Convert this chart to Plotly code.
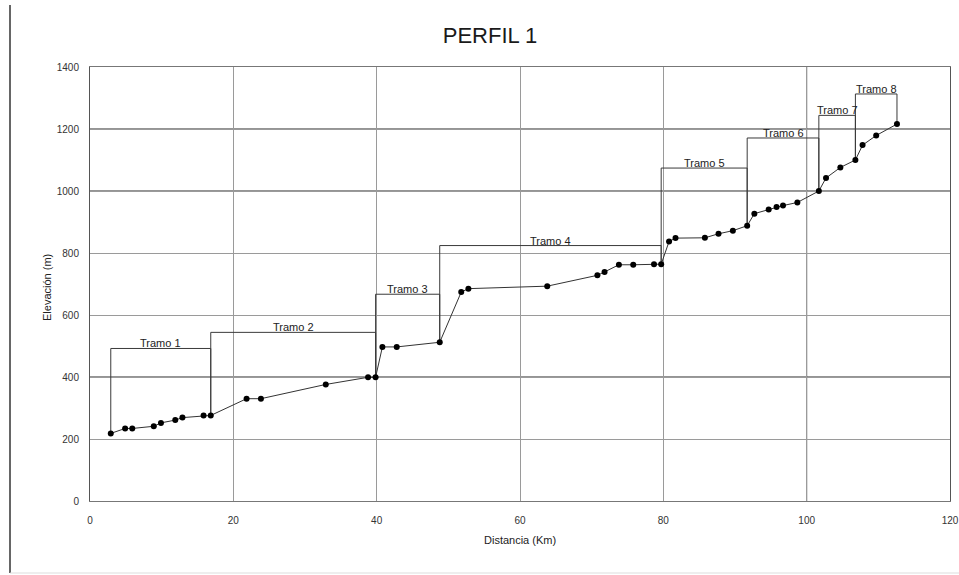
import plotly.graph_objects as go

# ---- data ----
dist = [2.9, 4.9, 5.9, 8.9, 9.9, 11.9, 12.9, 15.85, 16.85, 21.85, 23.85, 32.9,
        38.8, 39.85, 40.8, 42.8, 48.8, 51.8, 52.8, 63.8, 70.8, 71.8, 73.8, 75.8,
        78.7, 79.7, 80.8, 81.7, 85.8, 87.7, 89.7, 91.7, 92.7, 94.7, 95.8, 96.7,
        98.7, 101.7, 102.7, 104.7, 106.8, 107.8, 109.7, 112.6]
elev = [218, 234, 234, 241, 252, 261, 269, 276, 276, 330, 330, 376,
        399, 399, 497, 497, 512, 674, 685, 693, 728, 739, 762, 762,
        764, 764, 837, 848, 849, 862, 872, 888, 927, 940, 948, 953,
        963, 1000, 1042, 1076, 1100, 1148, 1179, 1216]

tramo_names = ["Tramo 1", "Tramo 2", "Tramo 3", "Tramo 4",
               "Tramo 5", "Tramo 6", "Tramo 7", "Tramo 8"]
tramo_start = [2.9, 16.85, 39.85, 48.8, 79.7, 91.7, 101.7, 106.8]
tramo_end = [16.85, 39.85, 48.8, 79.7, 91.7, 101.7, 106.8, 112.6]
tramo_top = [492, 544, 667, 824, 1074, 1171, 1244, 1313]

x_ticks = [0, 20, 40, 60, 80, 100, 120]
y_ticks = [0, 200, 400, 600, 800, 1000, 1200, 1400]
dark_grid_x = [100]
dark_grid_y = [400, 1000, 1200]

elev_at = dict(zip(dist, elev))

# bracket polylines
bx, by = [], []
for s, e, t in zip(tramo_start, tramo_end, tramo_top):
    bx += [s, s, e, e, None]
    by += [elev_at[s], t, t, elev_at[e], None]

FONT = "Liberation Sans, Arial, sans-serif"

fig = go.Figure()
fig.add_trace(go.Scatter(x=bx, y=by, mode="lines",
                         line=dict(color="#3a3a3a", width=1),
                         hoverinfo="skip", showlegend=False))
fig.add_trace(go.Scatter(x=dist, y=elev, mode="lines+markers",
                         line=dict(color="#333333", width=1),
                         marker=dict(color="black", size=6),
                         showlegend=False))

annotations = []
for name, s, e, t in zip(tramo_names, tramo_start, tramo_end, tramo_top):
    annotations.append(dict(x=(s + e) / 2, y=t, xref="x", yref="y",
                            text=name, showarrow=False, yanchor="bottom",
                            yshift=-3, font=dict(family=FONT, size=11, color="#222")))

# axis titles placed as annotations (pixel positions converted to paper)
PL, PR, PT, PB = 90, 950, 67, 501
W, H = 959, 575
pw, ph = PR - PL, PB - PT
def px(xp): return (xp - PL) / pw
def py(yp): return (PB - yp) / ph

annotations.append(dict(x=px(520), y=py(548), xref="paper", yref="paper",
                        text="Distancia (Km)", showarrow=False,
                        font=dict(family=FONT, size=11, color="#222")))
annotations.append(dict(x=px(39), y=py(288), xref="paper", yref="paper",
                        text="Elevación (m)", showarrow=False, textangle=-90,
                        font=dict(family=FONT, size=11, color="#222")))

shapes = []
for gx in dark_grid_x:
    shapes.append(dict(type="line", xref="x", yref="paper", x0=gx, x1=gx, y0=0, y1=1,
                       line=dict(color="#2a2a2a", width=1), layer="below"))
for gy in dark_grid_y:
    shapes.append(dict(type="line", xref="paper", yref="y", x0=0, x1=1, y0=gy, y1=gy,
                       line=dict(color="#2a2a2a", width=1), layer="below"))
# page frame lines
shapes.append(dict(type="line", xref="paper", yref="paper", x0=px(10), x1=px(10),
                   y0=py(573), y1=py(5), line=dict(color="#333", width=1.5)))
shapes.append(dict(type="line", xref="paper", yref="paper", x0=px(10), x1=px(959),
                   y0=py(573), y1=py(573), line=dict(color="#dddddd", width=1)))

fig.update_layout(
    width=W, height=H,
    margin=dict(l=PL, r=W - PR, t=PT, b=H - PB, autoexpand=False),
    paper_bgcolor="white", plot_bgcolor="white",
    title=dict(text="PERFIL 1", x=px(490), xref="paper", xanchor="center",
               y=1 - 35 / H, yanchor="middle", automargin=False,
               font=dict(family=FONT, size=22, color="#1a1a1a")),
    annotations=annotations, shapes=shapes,
    showlegend=False,
)
fig.update_xaxes(range=[0, 120], tickvals=x_ticks, showgrid=True, gridcolor="#9a9a9a",
                 gridwidth=1, zeroline=False, showline=True, linecolor="#777",
                 mirror=True, ticks="", ticklabelstandoff=10, automargin=False,
                 tickfont=dict(family=FONT, size=10, color="#333"))
fig.update_yaxes(range=[0, 1400], tickvals=y_ticks, showgrid=True, gridcolor="#9a9a9a",
                 gridwidth=1, zeroline=False, showline=True, linecolor="#555",
                 mirror=True, ticks="", ticklabelstandoff=8, automargin=False,
                 tickfont=dict(family=FONT, size=10, color="#333"))

fig.write_html("out.html", config={"displayModeBar": False},
               post_script="document.body.style.margin='0';document.body.style.overflow='hidden';")
